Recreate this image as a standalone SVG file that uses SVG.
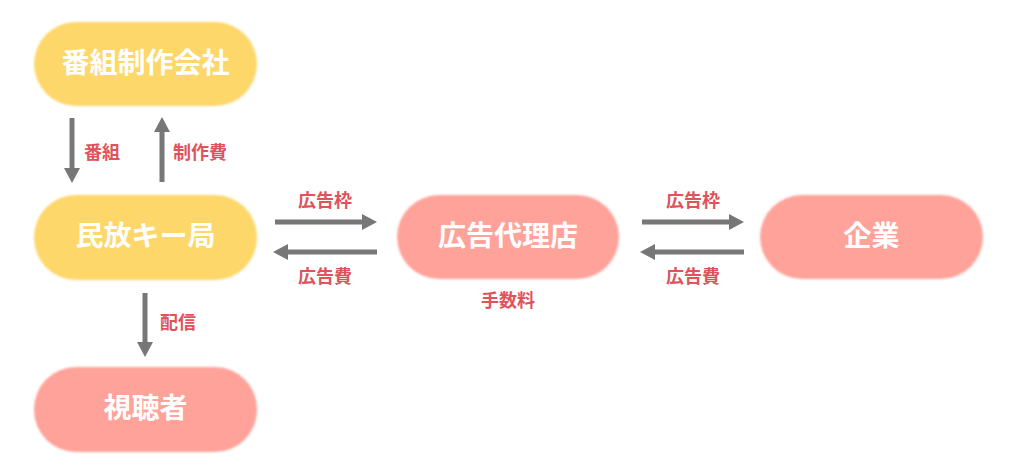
<svg xmlns="http://www.w3.org/2000/svg" width="1024" height="467" viewBox="0 0 1024 467">
<defs>
<style>
.ny{fill:#fed76b;}
.np{fill:#ffa39a;}
.nt{fill:#fff;font-family:"Noto Sans CJK JP","Noto Sans",sans-serif;font-weight:700;font-size:28px;text-anchor:middle;dominant-baseline:central;}
.lb{fill:#e0535b;font-family:"Noto Sans CJK JP","Noto Sans",sans-serif;font-weight:700;font-size:18px;dominant-baseline:central;}
.ar{stroke:#777;stroke-width:5;fill:none;marker-end:url(#ah);}
</style>
<filter id="soft" x="-5%" y="-10%" width="110%" height="120%"><feGaussianBlur stdDeviation="0.9"/></filter>
<marker id="ah" markerUnits="userSpaceOnUse" markerWidth="15" markerHeight="16" refX="0" refY="8" orient="auto">
<path d="M0,0 L15,8 L0,16 z" fill="#777"/>
</marker>
</defs>
<rect width="1024" height="467" fill="#fff"/>
<g id="n-seisaku"><rect class="ny" x="34" y="22" width="223" height="84" rx="42" filter="url(#soft)"/><text class="nt" x="145.5" y="61">番組制作会社</text></g>
<g id="n-minpo"><rect class="ny" x="34" y="195" width="223" height="85" rx="42" filter="url(#soft)"/><text class="nt" x="145.5" y="234">民放キー局</text></g>
<g id="n-shichosha"><rect class="np" x="34" y="367" width="223" height="85" rx="42" filter="url(#soft)"/><text class="nt" x="145.5" y="406">視聴者</text></g>
<g id="n-dairiten"><rect class="np" x="397" y="195" width="222" height="84" rx="42" filter="url(#soft)"/><text class="nt" x="508" y="234">広告代理店</text></g>
<g id="n-kigyo"><rect class="np" x="760" y="195" width="223" height="84" rx="42" filter="url(#soft)"/><text class="nt" x="871.5" y="234">企業</text></g>
<g id="connectors">
<line class="ar" x1="72" y1="118" x2="72" y2="168"/>
<line class="ar" x1="162" y1="182" x2="162" y2="132"/>
<line class="ar" x1="145" y1="293" x2="145" y2="342"/>
<line class="ar" x1="275" y1="222" x2="362" y2="222"/>
<line class="ar" x1="377" y1="252" x2="288" y2="252"/>
<line class="ar" x1="642" y1="222" x2="729" y2="222"/>
<line class="ar" x1="744" y1="252" x2="655" y2="252"/>
<text class="lb" x="84" y="151">番組</text>
<text class="lb" x="173" y="151">制作費</text>
<text class="lb" x="160" y="321">配信</text>
<text class="lb" x="325" y="199" text-anchor="middle">広告枠</text>
<text class="lb" x="325" y="275" text-anchor="middle">広告費</text>
<text class="lb" x="693" y="199" text-anchor="middle">広告枠</text>
<text class="lb" x="693" y="275" text-anchor="middle">広告費</text>
<text class="lb" x="508" y="299" text-anchor="middle">手数料</text>
</g>
</svg>
